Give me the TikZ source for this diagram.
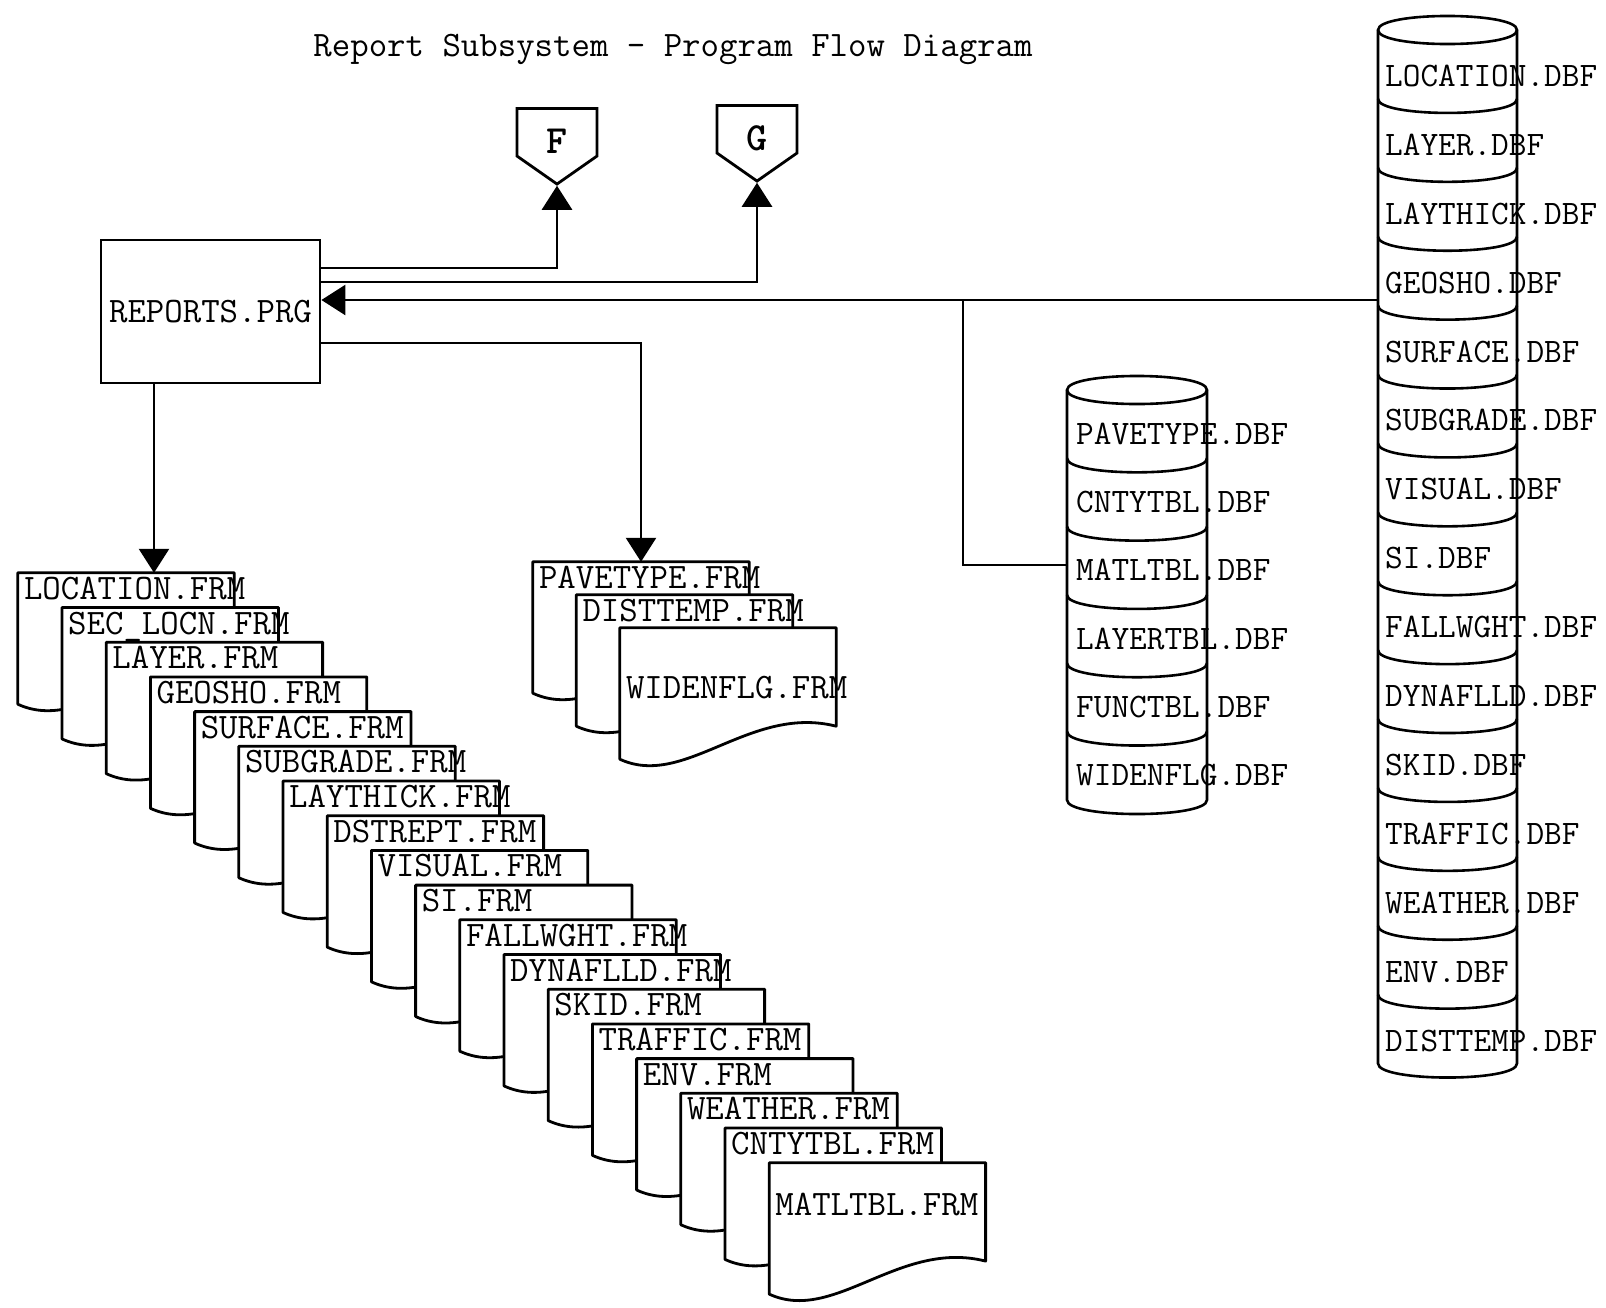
\documentclass[tikz,border=0pt]{standalone}
\usepackage{fontspec}
\usetikzlibrary{arrows.meta,positioning,calc,shapes.symbols}
\tikzset{
  prg/.style={draw, rectangle, line width=2.8pt, minimum width=219pt, minimum height=143pt, inner sep=0pt, font=\ttfamily\fontsize{35.8}{38}\selectfont},
  offpg/.style={draw, signal, signal to=south, signal pointer angle=110, line width=2.8pt, minimum width=80pt, minimum height=55pt, inner sep=0pt, text height=42pt, text depth=0pt, font=\ttfamily\bfseries\fontsize{40}{42}\selectfont},
  docbox/.style={rectangle, minimum width=216pt, minimum height=131pt, inner sep=0pt},
  docline/.style={draw, fill=white, line width=2.8pt, line join=round},
  lbl/.style={anchor=west, inner sep=0pt, text height=25pt, text depth=0pt, font=\ttfamily\fontsize{35.8}{38}\selectfont},
  dblbl/.style={anchor=west, inner sep=0pt, text height=24pt, text depth=0pt, font=\ttfamily\fontsize{34.3}{36}\selectfont},
  cyl/.style={draw, line width=2.6pt},
  conn/.style={line width=2.6pt},
  arr/.style={-{Triangle[length=24pt,width=30pt]}, line width=2.6pt},
}

\begin{document}
\begin{tikzpicture}[x=1pt, y=-1pt]
\useasboundingbox (0,0) rectangle (1606,1307);

\node[lbl, anchor=center] (title) at (673,44) {Report Subsystem - Program Flow Diagram};

\node[prg] (reports) at (210.5,311.5) {REPORTS.PRG};
\node[offpg, anchor=north] (F) at (557,107) {F};
\node[offpg, anchor=north] (G) at (757,104) {G};

% report forms, left stack
\foreach \name/\ty [count=\i] in {LOCATION.FRM/14, SEC\_LOCN.FRM/14, LAYER.FRM/14,
    GEOSHO.FRM/14, SURFACE.FRM/14, SUBGRADE.FRM/14, LAYTHICK.FRM/14, DSTREPT.FRM/14,
    VISUAL.FRM/14, SI.FRM/14, FALLWGHT.FRM/14, DYNAFLLD.FRM/14, SKID.FRM/14,
    TRAFFIC.FRM/14, ENV.FRM/14, WEATHER.FRM/14, CNTYTBL.FRM/14, MATLTBL.FRM/40}{
  \node[docbox] (d\i) at ({126+44.2*(\i-1)}, {638.5+34.7*(\i-1)}) {};
  \draw[docline] (d\i.north west) -- (d\i.south west)
    .. controls ([shift={(65,30)}]d\i.south west) and ([shift={(130,-55)}]d\i.south west)
    .. ([shift={(0,-33)}]d\i.south east) -- (d\i.north east) -- cycle;
  \node[lbl] (t\i) at ([shift={(6,\ty)}]d\i.north west) {\name};
}

% report forms, middle stack
\foreach \name/\ty [count=\i] in {PAVETYPE.FRM/14, DISTTEMP.FRM/14, WIDENFLG.FRM/58}{
  \node[docbox] (p\i) at ({641+43.5*(\i-1)}, {627.5+33*(\i-1)}) {};
  \draw[docline] (p\i.north west) -- (p\i.south west)
    .. controls ([shift={(65,30)}]p\i.south west) and ([shift={(130,-55)}]p\i.south west)
    .. ([shift={(0,-33)}]p\i.south east) -- (p\i.north east) -- cycle;
  \node[lbl] (q\i) at ([shift={(6,\ty)}]p\i.north west) {\name};
}

% lookup tables
\draw[cyl] (1067,390) -- (1067,800) .. controls (1067,818.7) and (1207,818.7) .. (1207,800)
  -- (1207,390) .. controls (1207,371.3) and (1067,371.3) .. (1067,390) -- cycle;
\foreach \k in {0,...,5}
  \draw[cyl] (1067,{390+68.3*\k}) .. controls (1067,{408.7+68.3*\k}) and (1207,{408.7+68.3*\k}) .. (1207,{390+68.3*\k});
\foreach \name [count=\i] in {PAVETYPE.DBF, CNTYTBL.DBF, MATLTBL.DBF, LAYERTBL.DBF, FUNCTBL.DBF, WIDENFLG.DBF}
  \node[dblbl] (m\i) at (1076, {390+68.3*(\i-0.5)+8}) {\name};

% data files
\draw[cyl] (1378,30) -- (1378,1063.5) .. controls (1378,1082.2) and (1517,1082.2) .. (1517,1063.5)
  -- (1517,30) .. controls (1517,11.3) and (1378,11.3) .. (1378,30) -- cycle;
\foreach \k in {0,...,14}
  \draw[cyl] (1378,{30+68.9*\k}) .. controls (1378,{48.7+68.9*\k}) and (1517,{48.7+68.9*\k}) .. (1517,{30+68.9*\k});
\foreach \name [count=\i] in {LOCATION.DBF, LAYER.DBF, LAYTHICK.DBF, GEOSHO.DBF, SURFACE.DBF,
    SUBGRADE.DBF, VISUAL.DBF, SI.DBF, FALLWGHT.DBF, DYNAFLLD.DBF, SKID.DBF, TRAFFIC.DBF,
    WEATHER.DBF, ENV.DBF, DISTTEMP.DBF}
  \node[dblbl] (r\i) at (1385, {30+68.9*(\i-0.5)+10}) {\name};

\coordinate (geoside) at (1378,300);
\coordinate (tap) at (963,300);
\coordinate (matside) at (1067,565);

\draw[arr] (geoside) -- (geoside -| reports.east);
\draw[conn] (matside) -| (tap);
\draw[arr] ([yshift=43.5pt]reports.east) -| (F.south);
\draw[arr] ([yshift=29.5pt]reports.east) -| (G.south);
\draw[arr] ([yshift=-31.5pt]reports.east) -| (p1.north);
\draw[arr] ([xshift=-56.5pt]reports.south) -- ([xshift=-56.5pt]reports.south |- d1.north);

\end{tikzpicture}
\end{document}
